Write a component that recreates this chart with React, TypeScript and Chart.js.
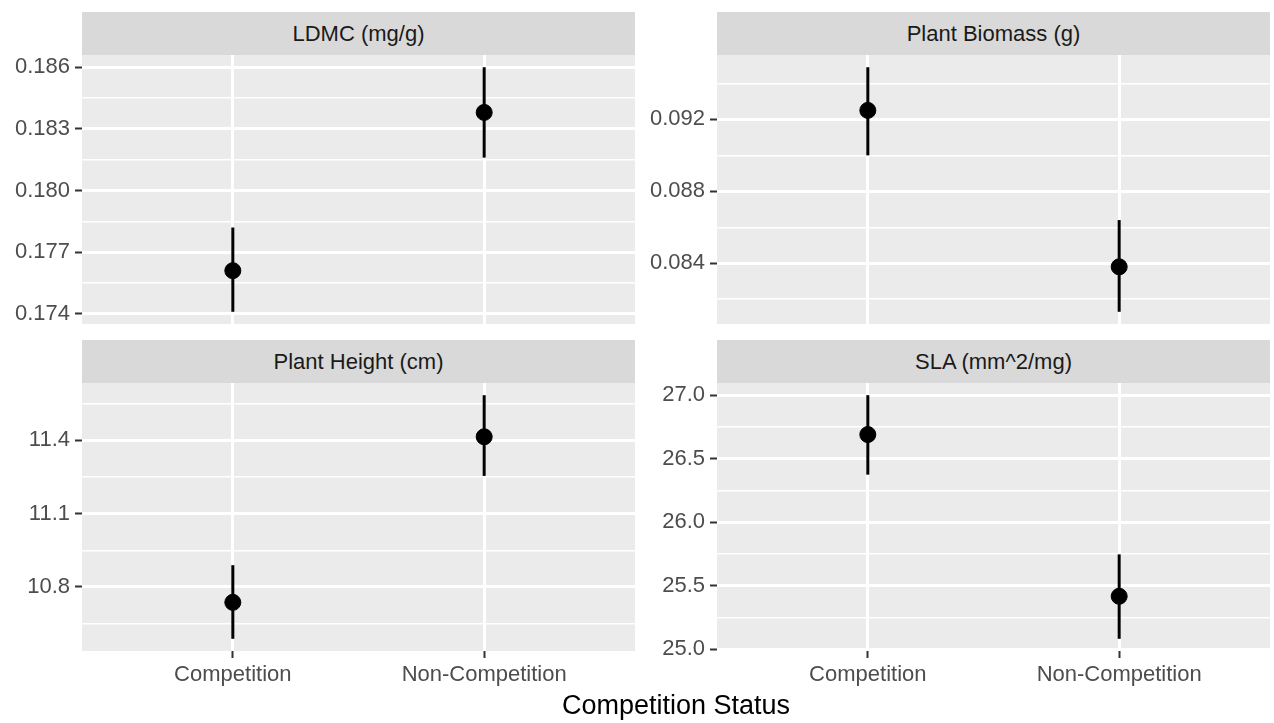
import React, { useEffect, useRef } from 'react';
import Chart from 'chart.js/auto';

// ---------- data ----------
const categories = ['Competition', 'Non-Competition'];
const xAxisTitle = 'Competition Status';

const ldmcTitle = 'LDMC (mg/g)';
const ldmcMean = [0.1761, 0.1838];
const ldmcLow = [0.1741, 0.1816];
const ldmcHigh = [0.1782, 0.186];
const ldmcTicks = [0.174, 0.177, 0.18, 0.183, 0.186];
const ldmcMinorTicks = [0.1755, 0.1785, 0.1815, 0.1845];

const biomassTitle = 'Plant Biomass (g)';
const biomassMean = [0.0925, 0.0838];
const biomassLow = [0.09, 0.0813];
const biomassHigh = [0.0949, 0.0864];
const biomassTicks = [0.084, 0.088, 0.092];
const biomassMinorTicks = [0.082, 0.086, 0.09, 0.094];

const heightTitle = 'Plant Height (cm)';
const heightMean = [10.737, 11.414];
const heightLow = [10.588, 11.254];
const heightHigh = [10.889, 11.584];
const heightTicks = [10.8, 11.1, 11.4];
const heightMinorTicks = [10.65, 10.95, 11.25, 11.55];

const slaTitle = 'SLA (mm^2/mg)';
const slaMean = [26.69, 25.416];
const slaLow = [26.374, 25.081];
const slaHigh = [27.0, 25.746];
const slaTicks = [25.0, 25.5, 26.0, 26.5, 27.0];
const slaMinorTicks = [25.25, 25.75, 26.25, 26.75];

// ---------- layout / style ----------
const FONT = "'Liberation Sans', Arial, Helvetica, sans-serif";
const AXIS_W = 82;
const PANEL_W = 553;
const STRIP_H = 43;
const X_AXIS_H = 40;

type PanelDef = {
  title: string;
  mean: number[];
  low: number[];
  high: number[];
  ticks: number[];
  minor: number[];
  decimals: number;
  col: number;
  stripTop: number;
  panelTop: number;
  panelH: number;
  showX: boolean;
};

const panels: PanelDef[] = [
  { title: ldmcTitle, mean: ldmcMean, low: ldmcLow, high: ldmcHigh, ticks: ldmcTicks, minor: ldmcMinorTicks, decimals: 3, col: 0, stripTop: 12, panelTop: 55, panelH: 269, showX: false },
  { title: biomassTitle, mean: biomassMean, low: biomassLow, high: biomassHigh, ticks: biomassTicks, minor: biomassMinorTicks, decimals: 3, col: 1, stripTop: 12, panelTop: 55, panelH: 269, showX: false },
  { title: heightTitle, mean: heightMean, low: heightLow, high: heightHigh, ticks: heightTicks, minor: heightMinorTicks, decimals: 1, col: 0, stripTop: 340, panelTop: 383, panelH: 268, showX: true },
  { title: slaTitle, mean: slaMean, low: slaLow, high: slaHigh, ticks: slaTicks, minor: slaMinorTicks, decimals: 1, col: 1, stripTop: 340, panelTop: 383, panelH: 268, showX: true },
];

const bgPlugin = {
  id: 'panelBg',
  beforeDraw(chart: any) {
    const { ctx, chartArea } = chart;
    ctx.save();
    ctx.fillStyle = '#EBEBEB';
    ctx.fillRect(chartArea.left, chartArea.top, chartArea.right - chartArea.left, chartArea.bottom - chartArea.top);
    ctx.restore();
  },
};

function Panel({ p }: { p: PanelDef }) {
  const ref = useRef<HTMLCanvasElement | null>(null);
  useEffect(() => {
    if (!ref.current) return;
    const lo = Math.min(...p.low);
    const hi = Math.max(...p.high);
    const pad = (hi - lo) * 0.05;
    const yMin = lo - pad;
    const yMax = hi + pad;
    const allY = [...p.ticks.map((v) => ({ value: v, minor: false })), ...p.minor.map((v) => ({ value: v, minor: true }))]
      .filter((t) => t.value >= yMin && t.value <= yMax)
      .sort((a, b) => a.value - b.value);

    const errorSets = categories.map((_, i) => ({
      type: 'scatter' as const,
      data: [
        { x: i + 1, y: p.low[i] },
        { x: i + 1, y: p.high[i] },
      ],
      showLine: true,
      borderColor: '#000000',
      borderWidth: 3,
      pointRadius: 0,
      pointHoverRadius: 0,
    }));

    const chart = new Chart(ref.current, {
      type: 'scatter',
      data: {
        datasets: [
          {
            data: categories.map((_, i) => ({ x: i + 1, y: p.mean[i] })),
            backgroundColor: '#000000',
            borderColor: '#000000',
            pointRadius: 8,
            pointHoverRadius: 8,
            showLine: false,
          },
          ...errorSets,
        ] as any,
      },
      options: {
        responsive: false,
        animation: false,
        events: [],
        layout: { padding: 0, autoPadding: false },
        plugins: { legend: { display: false }, tooltip: { enabled: false }, title: { display: false } },
        scales: {
          x: {
            type: 'linear',
            min: 0.4,
            max: 2.6,
            afterBuildTicks: (s: any) => {
              s.ticks = categories.map((_, i) => ({ value: i + 1 }));
            },
            afterFit: (s: any) => {
              s.height = p.showX ? X_AXIS_H : 0;
              s.paddingLeft = 0;
              s.paddingRight = 0;
              s.paddingTop = 0;
              s.paddingBottom = 0;
            },
            border: { display: false },
            grid: {
              color: '#FFFFFF',
              lineWidth: 3,
              drawTicks: p.showX,
              tickLength: 7,
              tickColor: '#333333',
              tickWidth: 2,
            },
            ticks: {
              display: p.showX,
              autoSkip: false,
              maxRotation: 0,
              padding: 4,
              color: '#4D4D4D',
              font: { family: FONT, size: 22 },
              callback: (v: any) => categories[Math.round(Number(v)) - 1] ?? '',
            },
          },
          y: {
            type: 'linear',
            min: yMin,
            max: yMax,
            afterBuildTicks: (s: any) => {
              s.ticks = allY.map((t) => ({ value: t.value, minor: t.minor }));
            },
            afterFit: (s: any) => {
              s.width = AXIS_W;
              s.paddingTop = 0;
              s.paddingBottom = 0;
              s.paddingLeft = 0;
              s.paddingRight = 0;
            },
            border: { display: false },
            grid: {
              color: '#FFFFFF',
              lineWidth: (c: any) => (c.tick && c.tick.minor ? 1.5 : 3),
              drawTicks: true,
              tickLength: 7,
              tickWidth: 2,
              tickColor: (c: any) => (c.tick && c.tick.minor ? 'rgba(0,0,0,0)' : '#333333'),
            },
            ticks: {
              autoSkip: false,
              padding: 5,
              color: '#4D4D4D',
              font: { family: FONT, size: 22 },
              callback: function (this: any, v: any, idx: number) {
                const t = allY[idx];
                if (t && t.minor) return '';
                return Number(v).toFixed(p.decimals);
              },
            },
          },
        },
      },
      plugins: [bgPlugin],
    } as any);
    return () => chart.destroy();
  }, [p]);

  const canvasLeft = p.col * (AXIS_W + PANEL_W);
  const canvasH = p.panelH + (p.showX ? X_AXIS_H : 0);
  return (
    <>
      <div
        style={{
          position: 'absolute',
          left: canvasLeft + AXIS_W,
          top: p.stripTop,
          width: PANEL_W,
          height: STRIP_H,
          background: '#D9D9D9',
          color: '#1A1A1A',
          fontFamily: FONT,
          fontSize: 22,
          display: 'flex',
          alignItems: 'center',
          justifyContent: 'center',
        }}
      >
        {p.title}
      </div>
      <canvas
        ref={ref}
        width={AXIS_W + PANEL_W}
        height={canvasH}
        style={{ position: 'absolute', left: canvasLeft, top: p.panelTop, width: AXIS_W + PANEL_W, height: canvasH, display: 'block' }}
      />
    </>
  );
}

export default function App() {
  return (
    <div
      style={{
        position: 'fixed',
        left: 0,
        top: 0,
        width: 1274,
        height: 723,
        background: '#FFFFFF',
        overflow: 'hidden',
      }}
    >
      {panels.map((p, i) => (
        <Panel key={i} p={p} />
      ))}
      <div
        style={{
          position: 'absolute',
          left: AXIS_W,
          top: 689,
          width: 2 * (AXIS_W + PANEL_W) - AXIS_W,
          textAlign: 'center',
          fontFamily: FONT,
          fontSize: 27,
          lineHeight: '32px',
          color: '#000000',
        }}
      >
        {xAxisTitle}
      </div>
    </div>
  );
}
